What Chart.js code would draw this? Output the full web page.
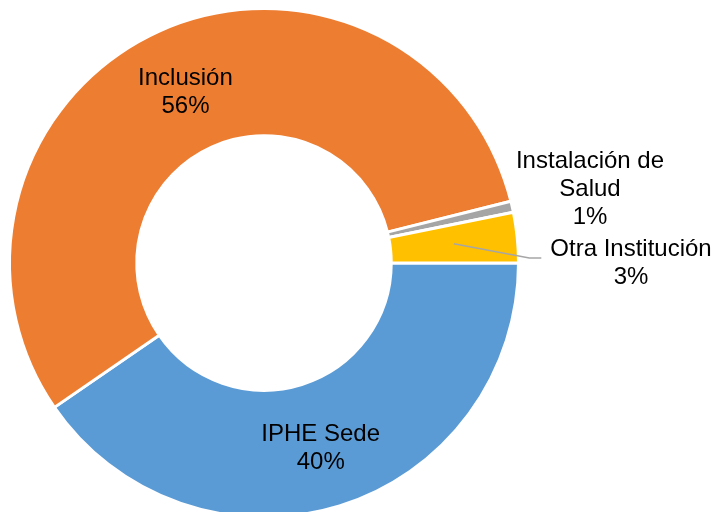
<!DOCTYPE html>
<html>
<head>
<meta charset="utf-8">
<script src="https://cdn.jsdelivr.net/npm/chart.js@4"></script>
<style>
  html, body { margin: 0; padding: 0; overflow: hidden; background: #fff; }
  #wrap { position: relative; width: 717px; height: 530px; }
</style>
</head>
<body>
<div id="wrap"><canvas id="c"></canvas></div>
<script>
// ---- data ----
const categories = ['IPHE Sede', 'Inclusión', 'Instalación de Salud', 'Otra Institución'];
const shares = [40.4, 55.7, 0.7, 3.2];
const sliceColors = ['#5B9BD5', '#ED7D31', '#A5A5A5', '#FFC000'];

// ---- label placement (offsets from chart centre, px) ----
const labelPlacement = [
  { mode: 'inside' },
  { mode: 'inside' },
  { mode: 'outside', dx: 326, dy: -77 },
  { mode: 'outside', dx: 367, dy: -3, leader: true }
];

const FONT_SIZE = 24;
const LINE_H = 28;
const TEXT_SHIFT = 3;
const FONT = FONT_SIZE + 'px "Liberation Sans", Arial, sans-serif';

function wrapText(ctx, text, maxW) {
  const words = text.split(' ');
  const lines = [];
  let cur = '';
  for (const w of words) {
    const t = cur ? cur + ' ' + w : w;
    if (ctx.measureText(t).width > maxW && cur) { lines.push(cur); cur = w; }
    else cur = t;
  }
  if (cur) lines.push(cur);
  return lines;
}

const labelPlugin = {
  id: 'sliceLabels',
  afterDatasetsDraw(chart) {
    const ctx = chart.ctx;
    const meta = chart.getDatasetMeta(0);
    const data = chart.data.datasets[0].data;
    const total = data.reduce((a, b) => a + b, 0);
    ctx.save();
    ctx.font = FONT;
    ctx.fillStyle = '#000';
    ctx.textAlign = 'center';
    ctx.textBaseline = 'middle';
    meta.data.forEach((arc, i) => {
      const p = arc.getProps(['x', 'y', 'startAngle', 'endAngle', 'innerRadius', 'outerRadius'], true);
      const mid = (p.startAngle + p.endAngle) / 2;
      const rMid = (p.innerRadius + p.outerRadius) / 2;
      const cx = p.x + Math.cos(mid) * rMid;
      const cy = p.y + Math.sin(mid) * rMid;
      const pl = labelPlacement[i];
      const lines = wrapText(ctx, chart.data.labels[i], 172);
      lines.push(Math.round(data[i] / total * 100) + '%');
      let lx, ly;
      if (pl.mode === 'inside') { lx = cx; ly = cy + TEXT_SHIFT; }
      else { lx = p.x + pl.dx; ly = p.y + pl.dy + TEXT_SHIFT; }
      if (pl.leader) {
        let maxW = 0;
        lines.forEach(l => { maxW = Math.max(maxW, ctx.measureText(l).width); });
        const endX = lx - maxW / 2 - 9;
        const endY = ly - 5;
        ctx.save();
        ctx.strokeStyle = '#A6A6A6';
        ctx.lineWidth = 1.5;
        ctx.beginPath();
        ctx.moveTo(cx, cy);
        ctx.lineTo(endX - 12, endY);
        ctx.lineTo(endX, endY);
        ctx.stroke();
        ctx.restore();
      }
      const top = ly - (lines.length - 1) * LINE_H / 2;
      lines.forEach((l, k) => ctx.fillText(l, lx, top + k * LINE_H));
    });
    ctx.restore();
  }
};

new Chart(document.getElementById('c'), {
  type: 'doughnut',
  data: {
    labels: categories,
    datasets: [{
      data: shares,
      backgroundColor: sliceColors,
      borderColor: '#ffffff',
      borderWidth: 3,
      hoverOffset: 0
    }]
  },
  options: {
    responsive: true,
    maintainAspectRatio: false,
    animation: false,
    rotation: 90,
    cutout: '50%',
    layout: { padding: { left: 8, right: 197, top: 7, bottom: 11 } },
    plugins: { legend: { display: false }, tooltip: { enabled: false } },
    events: []
  },
  plugins: [labelPlugin]
});
</script>
</body>
</html>
